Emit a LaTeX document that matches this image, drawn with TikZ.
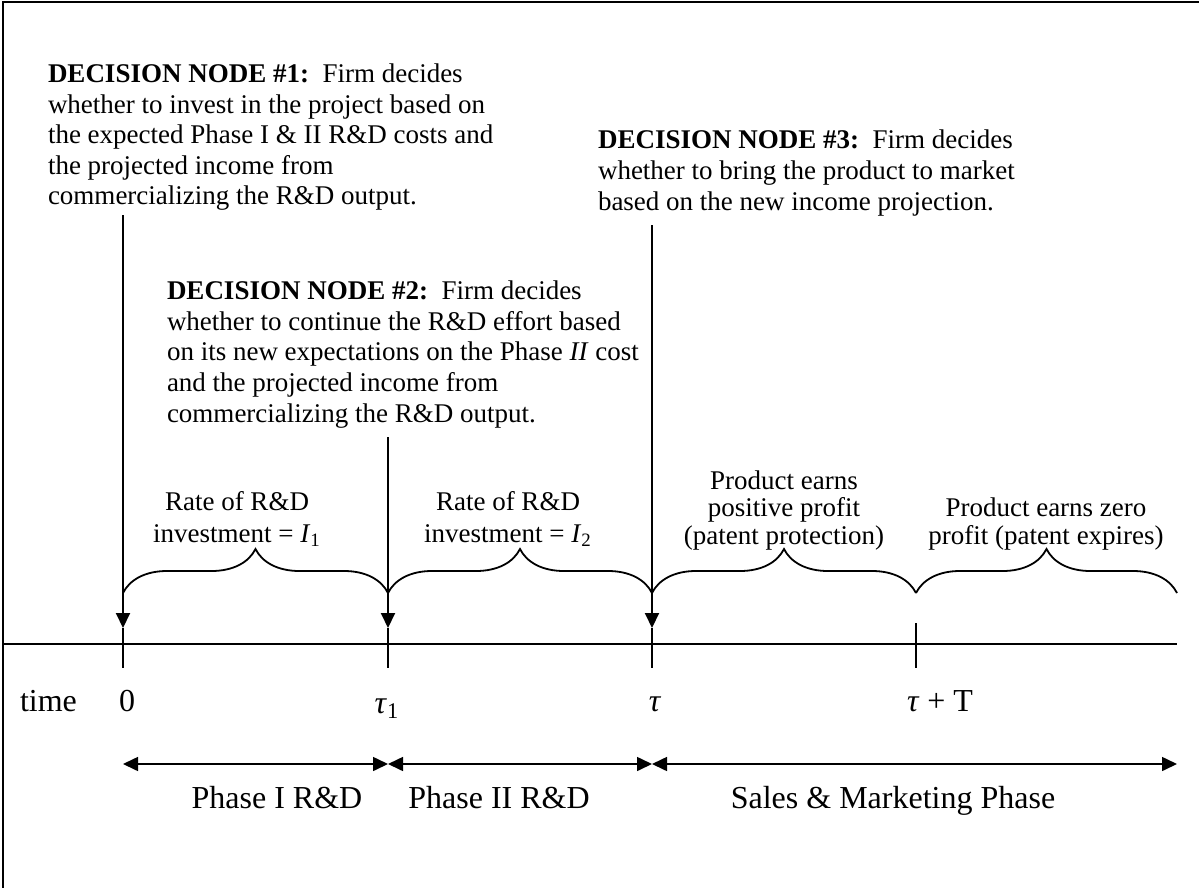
\documentclass[tikz,border=0pt]{standalone}
\usepackage{fontspec}
\setmainfont{Liberation Serif}
\usetikzlibrary{arrows.meta,decorations.pathreplacing,positioning}

\begin{document}
\begin{tikzpicture}[x=0.5pt,y=-0.5pt]
  \tikzstyle{every node}=[inner sep=0pt,outer sep=0pt]
  \tikzstyle{note}=[font=\fontsize{13.5}{15.3}\selectfont,align=left,anchor=base west]
  \tikzstyle{gain}=[font=\fontsize{13.5}{13.7}\selectfont,align=center,anchor=base]
  \tikzstyle{big}=[font=\fontsize{16}{19}\selectfont,anchor=base]
  \tikzstyle{drop}=[line width=1pt,-{Triangle[length=7.5pt,width=7pt]}]
  \tikzstyle{curly}=[line width=0.9pt,decorate,decoration={brace,amplitude=22pt}]
  \tikzstyle{span}=[line width=0.8pt,{Triangle[length=7.5pt,width=7pt]}-{Triangle[length=7.5pt,width=7pt]}]
  \useasboundingbox (0,0) rectangle (1199,888);
  \draw[line width=1pt] (3,888) -- (3,2) -- (1199,2);

  % decision nodes (placed by the baseline of their last line)
  \node[note] (dec1) at (48,205) {\textbf{DECISION NODE \#1:}\ \ Firm decides\\
    whether to invest in the project based on\\
    the expected Phase I \& II R\&D costs and\\
    the projected income from\\
    commercializing the R\&D output.};
  \node[note] (dec2) at (167,422) {\textbf{DECISION NODE \#2:}\ \ Firm decides\\
    whether to continue the R\&D effort based\\
    on its new expectations on the Phase \textit{II} cost\\
    and the projected income from\\
    commercializing the R\&D output.};
  \node[note] (dec3) at (598,210) {\textbf{DECISION NODE \#3:}\ \ Firm decides\\
    whether to bring the product to market\\
    based on the new income projection.};

  % time axis
  \coordinate (axl) at (3,644);
  \coordinate (axr) at (1177,644);
  \draw[line width=0.7pt] (axl) -- (axr);
  \coordinate (top0) at (123,215);
  \coordinate (top1) at (388,437);
  \coordinate (top2) at (652,225);
  \foreach \n/\x in {0/123,1/388,2/652} {
    \coordinate (hit\n) at (\x,628);
    \coordinate (low\n) at (\x,668);
    \draw[drop] (top\n) -- (hit\n);
    \draw[line width=1pt] (hit\n) -- (low\n);
  }
  \coordinate (hi3) at (916,623);
  \coordinate (low3) at (916,668);
  \draw[line width=1pt] (hi3) -- (low3);

  % braces and what happens in each stretch
  \coordinate (b0) at (123,593);
  \coordinate (b1) at (388,593);
  \coordinate (b2) at (652,593);
  \coordinate (b3) at (916,593);
  \coordinate (b4) at (1177,593);
  \draw[curly] (b0) -- (b1);
  \draw[curly] (b1) -- (b2);
  \draw[curly] (b2) -- (b3);
  \draw[curly] (b3) -- (b4);
  \node[gain,font=\fontsize{13.5}{16}\selectfont] (rate1) at (237,542) {Rate of R\&D\\investment = \textit{I}\textsubscript{1}};
  \node[gain,font=\fontsize{13.5}{16}\selectfont] (rate2) at (508,542) {Rate of R\&D\\investment = \textit{I}\textsubscript{2}};
  \node[gain] (prof1) at (784,544) {Product earns\\positive profit\\(patent protection)};
  \node[gain] (prof2) at (1046,544) {Product earns zero\\profit (patent expires)};

  % tick labels
  \node[big,anchor=base west] (time) at (20,711) {time};
  \node[big] (zero) at (127,711) {0};
  \node[big] (tau1) at (387,713) {\textit{τ}\textsubscript{1}};
  \node[big] (tau) at (655,711) {\textit{τ}};
  \node[big] (tauT) at (940,711) {\textit{τ} + T};

  % phases
  \coordinate (p0) at (123,764);
  \coordinate (p1) at (388,764);
  \coordinate (p2) at (652,764);
  \coordinate (p3) at (1177,764);
  \draw[span] (p0) -- (p1);
  \draw[span] (p1) -- (p2);
  \draw[span] (p2) -- (p3);
  \node[big] (ph1) at (277,808) {Phase I R\&D};
  \node[big] (ph2) at (499,808) {Phase II R\&D};
  \node[big] (ph3) at (893,808) {Sales \& Marketing Phase};
\end{tikzpicture}
\end{document}
